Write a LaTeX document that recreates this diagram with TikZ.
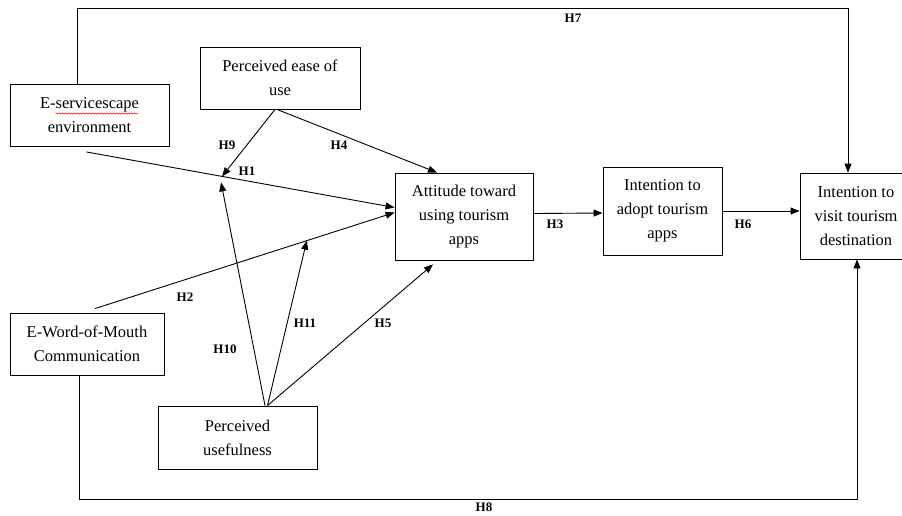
\documentclass[tikz,border=0pt]{standalone}
\usepackage{fontspec}
\setmainfont{Liberation Serif}
\usetikzlibrary{arrows.meta,calc,decorations.pathmorphing}
\begin{document}
\begin{tikzpicture}[x=1pt,y=-1pt,
  box/.style={draw, line width=0.9pt, inner sep=0pt, align=center,
    font=\fontsize{16.5}{24}\selectfont},
  link/.style={line width=0.9pt},
  arr/.style={link, -{Triangle[length=9pt,width=7pt]}},
  hyp/.style={font=\fontsize{13}{13}\selectfont\bfseries, inner sep=0pt}]
\useasboundingbox (0,0) rectangle (902,515);
\clip (0,0) rectangle (902,515);

% constructs
\node[box, minimum width=159pt, minimum height=62pt] (serv)   at (89.5,115.5) {E-servicescape\\environment};
\node[box, minimum width=160pt, minimum height=62pt] (ease)   at (280,78)     {Perceived ease of\\use};
\node[box, minimum width=138pt, minimum height=87pt] (att)    at (464,216.5)  {Attitude toward\\using tourism\\apps};
\node[box, minimum width=119pt, minimum height=88pt] (adopt)  at (662.5,211)  {Intention to\\adopt tourism\\apps};
\node[box, minimum width=112pt, minimum height=86pt] (visit)  at (856,216)    {Intention to\\visit tourism\\destination};
\node[box, minimum width=154pt, minimum height=62pt] (ewom)   at (87,344)     {E-Word-of-Mouth\\Communication};
\node[box, minimum width=159pt, minimum height=63pt] (useful) at (237.5,437.5) {Perceived\\usefulness};

% spell-check underline under "servicescape"
\draw[red, line width=0.5pt, decorate, decoration={snake, amplitude=0.7pt, segment length=3pt}]
  ($(serv.center)+(-34,-2)$) -- ($(serv.center)+(48.5,-2)$);

% anchor points of the main paths
\coordinate (h1s) at ($(serv.south)+(-3,5)$);
\coordinate (h1e) at ($(att.west)+(0,-9)$);
\coordinate (m1)  at ($(h1s)!0.44!(h1e)$);
\coordinate (h2s) at ($(ewom.north)+(8,-4)$);
\coordinate (h2e) at ($(att.west)+(0,-4)$);
\coordinate (m2)  at ($(h2s)!0.707!(h2e)$);
\coordinate (pu)  at ($(useful.north)+(30,0)$);

% direct effects
\draw[arr] (h1s) -- (m1) -- (h1e);
\draw[arr] (h2s) -- (h2e);
\draw[arr] ($(ease.south)+(-3,0)$) -- ($(att.north)+(-27,0)$);
\draw[arr] (pu) -- ($(att.south)+(-31,4)$);
\draw[arr] ($(att.east)+(0,-3)$) -- ($(adopt.west)+(0,2)$);
\draw[arr] (adopt.east) -- (visit.west |- adopt.east);
\draw[arr] ($(serv.north)+(-12.5,0)$) |- ($(visit.north)+(-8,-164)$) -- ($(visit.north)+(-8,0)$);
\draw[arr] ($(ewom.south)+(-8,0)$) |- ($(visit.south)+(1,240)$) -- ($(visit.south)+(1,0)$);

% moderating effects
\draw[arr] ($(ease.south)+(-5,0)$) -- (m1);
\draw[arr] ($(useful.north)+(27.5,0)$) -- ($(m1)+(-1,6)$);
\draw[arr] (pu) -- (m2);

% hypothesis labels
\node[hyp] (lH1)  at (247,171) {H1};
\node[hyp] (lH2)  at (185,297) {H2};
\node[hyp] (lH3)  at (555,224) {H3};
\node[hyp] (lH4)  at (339,145) {H4};
\node[hyp] (lH5)  at (383,323) {H5};
\node[hyp] (lH6)  at (743,224) {H6};
\node[hyp] (lH7)  at (573,18)  {H7};
\node[hyp] (lH8)  at (484,507) {H8};
\node[hyp] (lH9)  at (227,145) {H9};
\node[hyp] (lH10) at (225,349) {H10};
\node[hyp] (lH11) at (305,323) {H11};
\end{tikzpicture}
\end{document}
